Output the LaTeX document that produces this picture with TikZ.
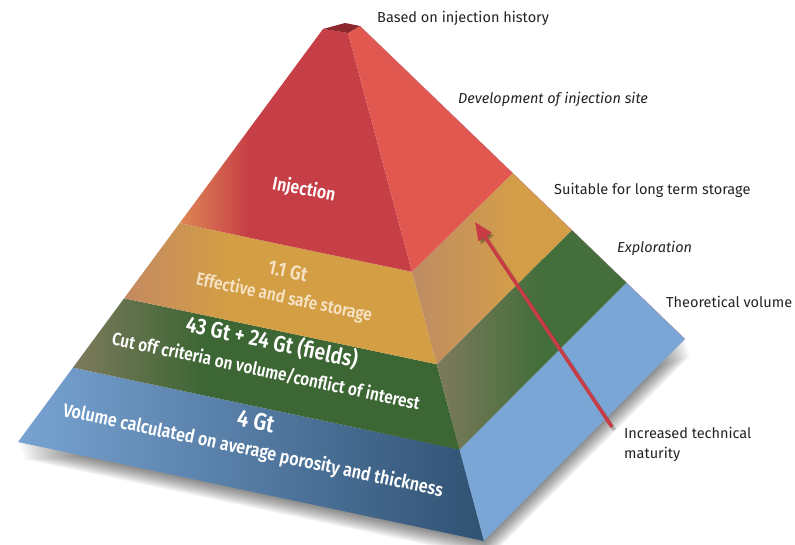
\documentclass[tikz,border=0pt]{standalone}
\usepackage{fontspec}
\setmainfont{Fira Sans}
\newfontfamily\cond{Fira Sans}[UprightFont={* SemiBold}, FakeStretch=0.86]
\usetikzlibrary{calc,arrows.meta}
\definecolor{blueLa}{RGB}{120,163,210}
\definecolor{blueLb}{RGB}{48,82,115}
\definecolor{blueR}{RGB}{122,166,214}
\definecolor{grnOl}{RGB}{125,122,92}
\definecolor{grn}{RGB}{60,102,52}
\definecolor{grnR}{RGB}{68,110,60}
\definecolor{ylwBr}{RGB}{196,138,98}
\definecolor{ylw}{RGB}{211,158,68}
\definecolor{ylwR}{RGB}{212,158,72}
\definecolor{ylwRbr}{RGB}{190,140,100}
\definecolor{orng}{RGB}{222,135,85}
\definecolor{redL}{RGB}{198,62,70}
\definecolor{redR}{RGB}{224,88,80}
\definecolor{capc}{RGB}{140,40,45}
\definecolor{arrowc}{RGB}{200,60,70}
\definecolor{labc}{RGB}{35,35,35}
\definecolor{cream}{RGB}{246,226,196}
\pgfdeclarehorizontalshading{blueLs}{100bp}{color(0bp)=(blueLa); color(25bp)=(blueLa); color(75bp)=(blueLb); color(100bp)=(blueLb)}
\pgfdeclarehorizontalshading{grnLs}{100bp}{color(0bp)=(grnOl); color(25bp)=(grnOl); color(42bp)=(grn); color(100bp)=(grn)}
\pgfdeclarehorizontalshading{ylwLs}{100bp}{color(0bp)=(ylwBr); color(25bp)=(ylwBr); color(42bp)=(ylw); color(100bp)=(ylw)}
\pgfdeclarehorizontalshading{redLs}{100bp}{color(0bp)=(orng); color(25bp)=(orng); color(40bp)=(redL); color(100bp)=(redL)}
\pgfdeclarehorizontalshading{grnRs}{100bp}{color(0bp)=(grnOl); color(25bp)=(grnOl); color(52bp)=(grnR); color(100bp)=(grnR)}
\pgfdeclarehorizontalshading{ylwRs}{100bp}{color(0bp)=(ylwRbr); color(25bp)=(ylwRbr); color(58bp)=(ylwR); color(100bp)=(ylwR)}
\begin{document}
\begin{tikzpicture}[x=1pt,y=-1pt,
  facetxt/.style={text=white, inner sep=0pt},
  lbl/.style={anchor=west, text=labc, inner sep=0pt, font=\fontsize{14.5}{16}\selectfont},
  lbli/.style={anchor=west, text=labc, inner sep=0pt, font=\itshape\fontsize{14.5}{16}\selectfont}]
\useasboundingbox (0,0) rectangle (795,545);
% corners
\coordinate (L) at (18,442);
\coordinate (F) at (484,541);
\coordinate (R) at (685,339);
\coordinate (AL) at (323,29);
\coordinate (AT) at (345,23);
\coordinate (AR) at (360,26);
\coordinate (AF) at (348,33);
\coordinate (C) at (420,420);
% band levels
\foreach \n/\t in {1/0.18,2/0.348,3/0.53}{
  \coordinate (L\n) at ($(L)!\t!(AL)$);
  \coordinate (F\n) at ($(F)!\t!(AF)$);
  \coordinate (R\n) at ($(R)!\t!(AR)$);
}
% soft shadow
\foreach \k in {1,...,13}{
  \fill[black,opacity=0.045] ([shift={(0.4*\k,1.3*\k)}]L) -- ([shift={(0.4*\k,1.3*\k)}]F) -- ([shift={(0.4*\k,1.3*\k)}]R) -- ([shift={(0.4*\k,1.3*\k)}]C) -- cycle;
}
% left face
\shade[shading=blueLs] (L) -- (F) -- (F1) -- (L1) -- cycle;
\shade[shading=grnLs] (L1) -- (F1) -- (F2) -- (L2) -- cycle;
\shade[shading=ylwLs] (L2) -- (F2) -- (F3) -- (L3) -- cycle;
\shade[shading=redLs] (L3) -- (F3) -- (AF) -- (AL) -- cycle;
% right face
\fill[blueR] (F) -- (R) -- (R1) -- (F1) -- cycle;
\shade[shading=grnRs] (F1) -- (R1) -- (R2) -- (F2) -- cycle;
\shade[shading=ylwRs] (F2) -- (R2) -- (R3) -- (F3) -- cycle;
\fill[redR] (F3) -- (R3) -- (AR) -- (AF) -- cycle;
% cap
\fill[capc] (AL) -- (AT) -- (AR) -- (AF) -- cycle;
% thin edge line
\draw[line width=0.4pt, draw={rgb,255:red,175;green,110;blue,140}, opacity=0.6] (AR) -- (R);
% arrow
\coordinate (atail) at (612,427);
\coordinate (atip) at (475,222);
\draw[line width=3.5pt, black, opacity=0.22, -{Triangle[length=18pt,width=15pt]}] ([shift={(2.5,3)}]atail) -- ([shift={(2.5,3)}]atip);
\draw[line width=3.5pt, arrowc, -{Triangle[length=18pt,width=15pt]}] (atail) -- (atip);
% face texts
\node[facetxt, rotate=-11, font=\cond\fontsize{18.5}{20}\selectfont] (tinj) at (304,190) {Injection};
\node[facetxt, text=cream, rotate=-12, font=\cond\fontsize{20}{22}\selectfont] (tga) at (288,271) {1.1 Gt};
\node[facetxt, text=cream, rotate=-12, font=\cond\fontsize{17.8}{19}\selectfont] (tgb) at (284,298) {Effective and safe storage};
\node[facetxt, rotate=-12, font=\cond\fontsize{22.5}{24}\selectfont] (tgc) at (272,342) {43 Gt + 24 Gt (fields)};
\node[facetxt, rotate=-12, font=\cond\fontsize{17.9}{19}\selectfont] (tgd) at (266,371) {Cut off criteria on volume/conflict of interest};
\node[facetxt, rotate=-12, font=\cond\fontsize{24}{26}\selectfont] (tge) at (256,421) {4 Gt};
\node[facetxt, rotate=-12, font=\cond\fontsize{18.7}{20}\selectfont] (tgf) at (253,451) {Volume calculated on average porosity and thickness};
% labels
\node[lbl] (l1) at (377,18) {Based on injection history};
\node[lbli] (l2) at (458,99) {Development of injection site};
\node[lbl] (l3) at (554,190) {Suitable for long term storage};
\node[lbli] (l4) at (617,248) {Exploration};
\node[lbl] (l5) at (666,302) {Theoretical volume};
\node[lbl, align=left, font=\fontsize{14.5}{20}\selectfont] (l6) at (624,444) {Increased technical\\maturity};
\end{tikzpicture}
\end{document}
